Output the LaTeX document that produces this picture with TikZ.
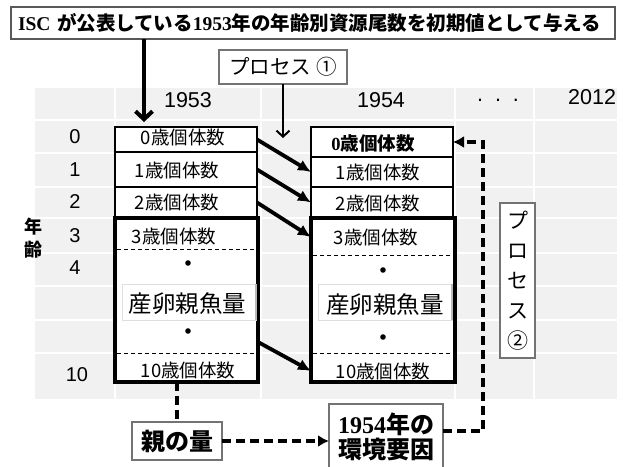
\documentclass[tikz,border=0pt]{standalone}
\usepackage{fontspec}
\setmainfont{Liberation Serif}
\newfontfamily\jp{Noto Sans CJK JP}
\newfontfamily\ars{Liberation Sans}
\usetikzlibrary{arrows.meta,calc}
\newcommand\setsz[1]{\fontsize{#1pt}{#1pt}\selectfont}
\newcommand\setszb[2]{\fontsize{#1pt}{#2pt}\selectfont}
\definecolor{bgc}{gray}{0.945}
\definecolor{boxc}{gray}{0.45}
\definecolor{topc}{gray}{0.35}
\begin{document}
\begin{tikzpicture}[x=1pt,y=-1pt,
  every node/.style={inner sep=0pt, outer sep=0pt},
  rowbox/.style={draw=black, line width=1.2pt, fill=white, minimum width=142pt},
  thickbox/.style={draw=black, line width=3.6pt, fill=white, minimum height=164pt},
  notebox/.style={draw=boxc, line width=1.1pt, fill=white},
  gridline/.style={white, line width=1.3pt},
  yr/.style={font=\ars\setsz{21.5}},
  agel/.style={font=\ars\setsz{20}},
  cellt/.style={font=\jp\setsz{18.5}},
  innerdash/.style={line width=0.9pt, dash pattern=on 4pt off 3pt},
  bigarrow/.style={line width=3.8pt, -{Latex[length=13pt,width=12pt]}},
  dashline/.style={line width=4pt, dash pattern=on 9pt off 5pt},
  dasharrow/.style={line width=4pt, dash pattern=on 9pt off 5pt, -{Latex[length=11pt,width=12pt]}},
  toparrow/.style={line width=4pt, -{Straight Barb[length=8pt,width=17pt,line width=4pt]}},
  thinarrow/.style={line width=2pt, -{Straight Barb[length=6pt,width=13pt,line width=2pt]}}
]
\useasboundingbox (0,0) rectangle (636,466);
% table background
\fill[bgc] (35,88) rectangle (617,399);
\foreach \yy in {120,153,187,218,253,286,320,353} \draw[gridline] (35,\yy) -- (617,\yy);
\foreach \xx in {115,261,455,534} \draw[gridline] (\xx,88) -- (\xx,399);

% header
\node[yr] (y1953) at (188,100) {1953};
\node[yr] (y1954) at (381,100) {1954};
\node[yr] (ydots) at (498,100) {.\ \ .\ \ .};
\node[yr, anchor=east] (y2012) at (616,97) {2012};

% age labels
\node[agel] (a0) at (75,137) {0};
\node[agel] (a1) at (75,170) {1};
\node[agel] (a2) at (75,202) {2};
\node[agel] (a3) at (75,236) {3};
\node[agel] (a4) at (75,268) {4};
\node[agel] (a10) at (77,375) {10};
\node[font=\jp\bfseries\setszb{18}{23}, align=center] (nenrei) at (33,238) {年\\齢};

% left stack (1953)
\node[rowbox, minimum height=25pt] (L0) at (186,139.5) {};
\node[rowbox, minimum height=35pt] (L1) at (186,169.5) {};
\node[rowbox, minimum height=31pt] (L2) at (186,202.5) {};
\node[thickbox, minimum width=143pt] (LT) at (186.5,300) {};
\node[draw=gray!25, line width=0.8pt, minimum width=134pt, minimum height=36pt] (Lsb) at (189,302) {};
\draw[gray!55, line width=1.5pt] (Lsb.north east) -- (Lsb.south east);
\draw[innerdash] (117,249) -- (256,249);
\draw[innerdash] (117,353) -- (256,353);
\node[cellt] (tL0) at (183,137.5) {0歳個体数};
\node[cellt] (tL1) at (177,170) {1歳個体数};
\node[cellt] (tL2) at (177,202) {2歳個体数};
\node[cellt] (tL3) at (174,236) {3歳個体数};
\node[font=\jp\setsz{23.5}] (tLs) at (187.5,304) {産卵親魚量};
\node[cellt] (tL10) at (188,370) {10歳個体数};
\fill (188,263) circle (2.8pt);
\fill (188,331) circle (2.8pt);

% right stack (1954)
\node[rowbox, minimum height=30pt] (R0) at (382,142) {};
\node[rowbox, minimum height=30pt] (R1) at (382,172) {};
\node[rowbox, minimum height=31pt] (R2) at (382,202.5) {};
\node[thickbox, minimum width=144pt] (RT) at (383,300) {};
\node[draw=gray!25, line width=0.8pt, minimum width=134pt, minimum height=36pt] (Rsb) at (385,302) {};
\draw[gray!55, line width=1.5pt] (Rsb.north east) -- (Rsb.south east);
\draw[innerdash] (313,255) -- (453,255);
\draw[innerdash] (313,353) -- (453,353);
\node[cellt] (tR0) at (373,143) {{\rmfamily\bfseries 0}{\bfseries 歳個体数}};
\node[cellt] (tR1) at (378,172) {1歳個体数};
\node[cellt] (tR2) at (378,203) {2歳個体数};
\node[cellt] (tR3) at (376,237) {3歳個体数};
\node[font=\jp\setsz{23.5}] (tRs) at (385,305) {産卵親魚量};
\node[cellt] (tR10) at (383,371) {10歳個体数};
\fill (383,270) circle (2.8pt);
\fill (383,337) circle (2.8pt);

% top note
\node[notebox, draw=topc, line width=1.6pt, minimum height=32pt, text width=590pt, inner xsep=7pt, align=left,
      font=\setsz{19.5}] (top) at (313,23)
  {{\bfseries ISC} {\jp\bfseries が公表している}{\bfseries 1953}{\jp\bfseries 年の年齢別資源尾数を初期値として与える}};
\coordinate (a1tip) at (144,122);
\draw[toparrow] (top.south -| a1tip) -- (a1tip);

% process 1
\node[notebox, minimum width=128pt, minimum height=34pt, font=\jp\setsz{20.5}] (p1) at (283,67) {プロセス ①};
\coordinate (p1tip) at (283,138);
\draw[thinarrow] (p1.south) -- (p1tip);

% process 2
\node[notebox, minimum width=35pt, minimum height=155pt, align=center, font=\jp\setszb{21}{30}] (p2) at (517.5,280.5)
  {プ\\ロ\\セ\\ス\\②};

% transition arrows
\draw[bigarrow] (L0.east) -- (R1.west);
\draw[bigarrow] (L1.east) -- (R2.west);
\draw[bigarrow] (L2.east) -- (RT.west |- tR3);
\draw[bigarrow] ([yshift=-42pt]LT.east) -- (RT.west |- tR10);

% bottom boxes
\node[notebox, minimum width=90pt, minimum height=38pt, font=\jp\bfseries\setsz{24}] (oya) at (177,441) {親の量};
\node[notebox, minimum width=114pt, minimum height=66pt, align=center, font=\jp\bfseries\setszb{24}{25}] (kan) at (386,437)
  {{\rmfamily\bfseries 1954}年の\\環境要因};

% dashed connectors
\draw[dashline] (LT.south -| oya.north) -- (oya.north);
\draw[dasharrow] (oya.east) -- (kan.west |- oya.east);
\coordinate (turn) at (483,142);
\draw[dasharrow] ([yshift=6pt]kan.east) -| (turn) -- (R0.east);
\end{tikzpicture}
\end{document}
